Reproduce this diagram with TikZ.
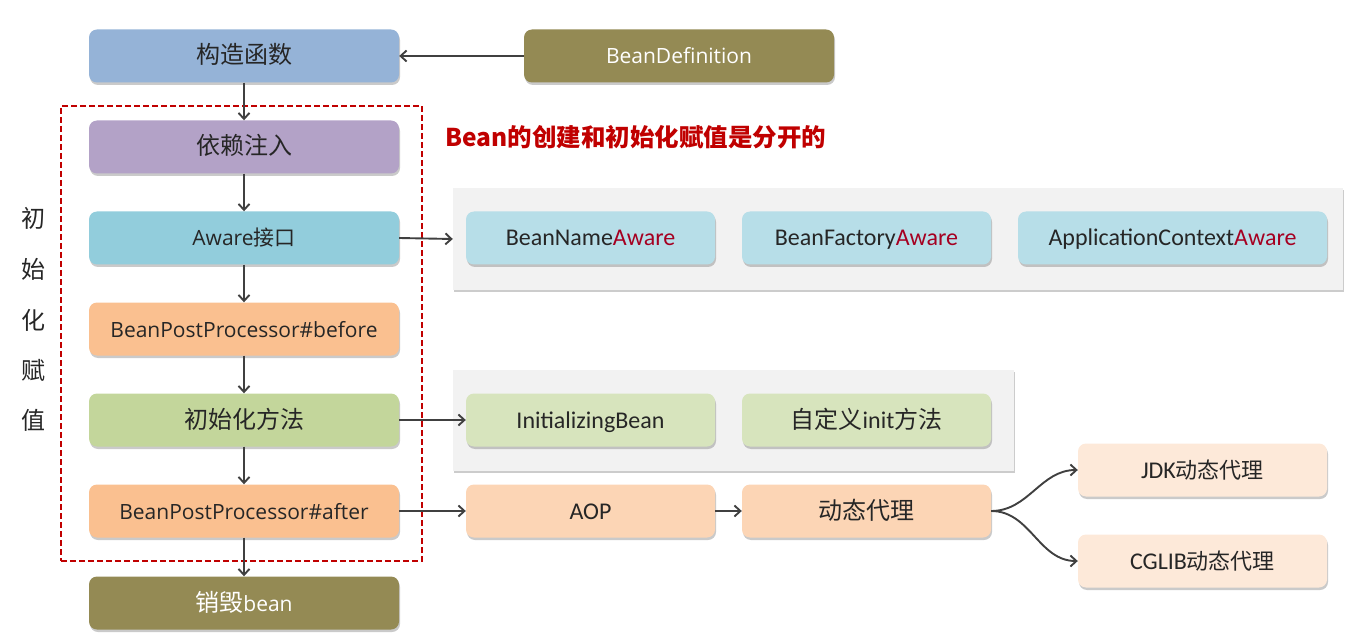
\documentclass[tikz,border=0pt]{standalone}
\usepackage{fontspec}
\setmainfont{Open Sans}
\newfontfamily\cjk{Noto Sans CJK SC}
\newfontfamily\calib{Carlito}
\usetikzlibrary{arrows.meta,shadows}
\definecolor{cblue}{HTML}{95B3D7}
\definecolor{cpurple}{HTML}{B3A2C7}
\definecolor{ccyan}{HTML}{92CDDC}
\definecolor{corange}{HTML}{FAC090}
\definecolor{cgreen}{HTML}{C3D69B}
\definecolor{colive}{HTML}{948A54}
\definecolor{clcyan}{HTML}{B7DEE8}
\definecolor{clgreen}{HTML}{D7E4BD}
\definecolor{clorange}{HTML}{FCD5B5}
\definecolor{cpeach}{HTML}{FDE9D9}
\definecolor{cpanel}{HTML}{F2F2F2}
\definecolor{cred}{HTML}{C00000}
\definecolor{awarered}{HTML}{A50021}
\definecolor{txt}{HTML}{262626}
\definecolor{arr}{HTML}{404040}
\tikzset{
  box/.style={rounded corners=8pt, minimum height=53pt, inner sep=0pt, text=txt,
    drop shadow={shadow xshift=1pt, shadow yshift=-2.5pt, opacity=0.35, fill=black!60}},
  lbox/.style={box, minimum width=310pt, font=\fontsize{21}{25}\selectfont, text height=17pt, text depth=1pt},
  rbox/.style={box, minimum width=249pt, font=\calib\fontsize{24}{28}\selectfont, text height=17pt, text depth=1pt},
  panel/.style={fill=cpanel, inner sep=0pt,
    drop shadow={shadow xshift=1pt, shadow yshift=-2pt, opacity=0.4, fill=black!50}},
  conn/.style={draw=arr, line width=1.9pt, -{Straight Barb[length=6pt,width=11pt,line width=1.9pt]}},
  vchar/.style={font=\cjk\fontsize{24}{28}\selectfont, text=txt, inner sep=0pt}
}
\begin{document}
\begin{tikzpicture}[x=1pt,y=-1pt]
\useasboundingbox (0,0) rectangle (1351,636);
% panels
\node[panel, minimum width=890pt, minimum height=102pt] (p1) at (898,239) {};
\node[panel, minimum width=561pt, minimum height=101pt] (p2) at (733.5,420.5) {};
% dashed frame
\node[draw=cred, dash pattern=on 6pt off 3pt, line width=2pt, minimum width=361pt, minimum height=455pt, inner sep=0pt] (frame) at (241.5,333.5) {};
% left column
\node[lbox, fill=cblue] (ctor) at (244,56) {\cjk\fontsize{24}{28}\selectfont 构造函数};
\node[lbox, fill=colive, text=white] (bdef) at (679,56) {BeanDefinition};
\node[lbox, fill=cpurple] (di) at (244,147) {\cjk\fontsize{24}{28}\selectfont 依赖注入};
\node[lbox, fill=ccyan] (aware) at (244,238) {Aware{\cjk 接口}};
\node[lbox, fill=corange] (before) at (244,329) {BeanPostProcessor\#before};
\node[lbox, fill=cgreen] (init) at (244,420) {\cjk\fontsize{24}{28}\selectfont 初始化方法};
\node[lbox, fill=corange] (after) at (244,511) {BeanPostProcessor\#after};
\node[lbox, fill=colive, text=white] (destroy) at (244,603) {{\cjk\fontsize{24}{28}\selectfont 销毁}bean};
% vertical label
\node[vchar] (v1) at (33,218) {初};
\node[vchar] (v2) at (33,269) {始};
\node[vchar] (v3) at (33,320) {化};
\node[vchar] (v4) at (33,370) {赋};
\node[vchar] (v5) at (33,420) {值};
% title
\node[anchor=west, text=cred, inner sep=0pt, font=\cjk\bfseries\fontsize{24.5}{28}\selectfont] (title) at (445,137) {Bean的创建和初始化赋值是分开的};
% right boxes
\node[rbox, fill=clcyan] (bna) at (590.5,238) {BeanName\textcolor{awarered}{Aware}};
\node[rbox, fill=clcyan] (bfa) at (866.5,238) {BeanFactory\textcolor{awarered}{Aware}};
\node[rbox, fill=clcyan, minimum width=309pt] (aca) at (1172.5,238) {ApplicationContext\textcolor{awarered}{Aware}};
\node[rbox, fill=clgreen] (ib) at (590.5,420) {InitializingBean};
\node[rbox, fill=clgreen] (cinit) at (866.5,420) {{\cjk\fontsize{24}{28}\selectfont 自定义}init{\cjk\fontsize{24}{28}\selectfont 方法}};
\node[rbox, fill=clorange] (aop) at (590.5,511) {AOP};
\node[rbox, fill=clorange] (proxy) at (866.5,511) {\cjk\fontsize{24}{28}\selectfont 动态代理};
\node[rbox, fill=cpeach] (jdk) at (1202.5,470) {JDK{\cjk\fontsize{22}{26}\selectfont 动态代理}};
\node[rbox, fill=cpeach] (cglib) at (1202.5,561) {CGLIB{\cjk\fontsize{22}{26}\selectfont 动态代理}};
% connectors
\draw[conn] (bdef.west) -- (ctor.east);
\draw[conn] (ctor.south) -- (di.north);
\draw[conn] (di.south) -- (aware.north);
\draw[conn] (aware.south) -- (before.north);
\draw[conn] (before.south) -- (init.north);
\draw[conn] (init.south) -- (after.north);
\draw[conn] (after.south) -- (destroy.north);
\draw[conn] (aware.east) -- (p1.west);
\draw[conn] (init.east) -- (ib.west);
\draw[conn] (after.east) -- (aop.west);
\draw[conn] (aop.east) -- (proxy.west);
\draw[conn] (proxy.east) to[out=0,in=180] (jdk.west);
\draw[conn] (proxy.east) to[out=0,in=180] (cglib.west);
\end{tikzpicture}
\end{document}
